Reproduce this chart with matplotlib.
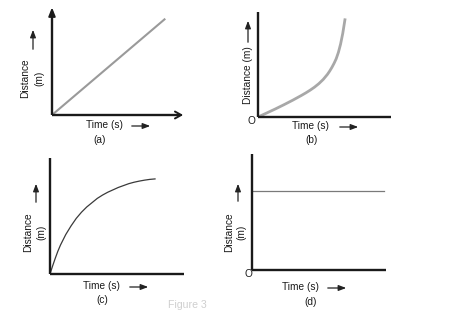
import matplotlib
matplotlib.use("Agg")
import matplotlib.pyplot as plt
from matplotlib.patches import FancyArrowPatch

plt.rcParams['font.family'] = ['Liberation Sans', 'DejaVu Sans']

W, H = 452, 325

# (a) uniform motion: distance grows linearly with time
time_a = [0, 10]
dist_a = [0, 10]

# (b) accelerated motion
time_b = [0, 1, 2, 3, 4, 5, 5.5, 6, 6.5, 7, 7.5, 8, 8.25, 8.5, 8.75, 9, 9.25,
          9.5, 9.75, 10]
dist_b = [0, 0.41, 0.83, 1.27, 1.73, 2.22, 2.48, 2.76, 3.07, 3.43, 3.86, 4.4,
          4.73, 5.1, 5.52, 6.0, 6.65, 7.5, 8.6, 10]

# (c) decelerated motion
time_c = [0, 0.25, 0.5, 0.75, 1, 1.5, 2, 2.5, 3, 3.5, 4, 4.5, 5, 5.5, 6, 6.5, 7,
          7.5, 8, 8.5, 9, 9.5, 10]
dist_c = [0, 0.85, 1.65, 2.4, 3.05, 4.15, 5.05, 5.85, 6.5, 7.05, 7.5, 7.95, 8.3,
          8.6, 8.85, 9.1, 9.3, 9.5, 9.65, 9.77, 9.87, 9.95, 10]

# (d) body at rest
time_d = [0, 10]
dist_d = [6.8, 6.8]

xlabel = "Time (s)"
panel_tags = ["(a)", "(b)", "(c)", "(d)"]

fig = plt.figure(figsize=(W / 100, H / 100), dpi=100)
fig.patch.set_facecolor("white")


def px(x, y):
    return x / W, 1 - y / H


def make_axes(left, top, right, bottom, xlim, ylim):
    ax = fig.add_axes([left / W, 1 - bottom / H, (right - left) / W, (bottom - top) / H])
    ax.set_xlim(*xlim)
    ax.set_ylim(*ylim)
    for s in ("top", "right"):
        ax.spines[s].set_visible(False)
    for s in ("left", "bottom"):
        ax.spines[s].set_linewidth(1.7)
        ax.spines[s].set_color("#1a1a1a")
        ax.spines[s].set_capstyle("butt")
    ax.set_xticks([])
    ax.set_yticks([])
    ax.patch.set_alpha(0)
    return ax


def arrow(x0, y0, x1, y1, lw=0.9):
    a = FancyArrowPatch(px(x0, y0), px(x1, y1), transform=fig.transFigure,
                        arrowstyle="-|>,head_length=0.45,head_width=0.17",
                        mutation_scale=10, lw=lw, color="#222222")
    fig.add_artist(a)


def text(x, y, s, rot=0, size=7.3, color="#1a1a1a", ha="center"):
    fig.text(*px(x, y), s, rotation=rot, ha=ha, va="center", fontsize=size, color=color)


# ---- panel (a)
ax = make_axes(52, 11, 180, 115, (0, 11.3), (0, 10.8))
ax.plot(time_a, dist_a, color="#9a9a9a", lw=1.5, solid_capstyle="butt")
ax.annotate("", xy=(0, 1.035), xytext=(0, 0.95), xycoords="axes fraction",
            arrowprops=dict(arrowstyle="-|>,head_length=0.5,head_width=0.2",
                            color="#1a1a1a", lw=1.4, shrinkA=0, shrinkB=0))
ax.annotate("", xy=(1.025, 0), xytext=(0.95, 0), xycoords="axes fraction",
            arrowprops=dict(arrowstyle="->,head_length=0.45,head_width=0.25",
                            color="#1a1a1a", lw=1.4, shrinkA=0, shrinkB=0))
text(25, 78, "Distance", rot=90)
text(39, 78, "(m)", rot=90)
arrow(33, 52, 33, 27)
text(104, 125, xlabel)
arrow(129, 126, 153, 126)
text(100, 140, panel_tags[0])

# ---- panel (b)
ax = make_axes(258, 12, 391, 117, (0, 15.3), (0, 10.8))
ax.plot(time_b, dist_b, color="#a8a8a8", lw=2.0)
text(248, 75, "Distance (m)", rot=90)
arrow(248, 45, 248, 18)
text(251, 121, "O")
text(310, 126, xlabel)
arrow(337, 127, 361, 127)
text(312, 140, panel_tags[1])

# ---- panel (c)
ax = make_axes(50, 158, 184, 274, (0, 12.76), (0, 12.2))
ax.plot(time_c, dist_c, color="#3a3a3a", lw=0.9)
text(28, 232, "Distance", rot=90)
text(41, 232, "(m)", rot=90)
arrow(36, 205, 36, 181)
text(101, 286, xlabel)
arrow(127, 287, 151, 287)
text(102, 300, panel_tags[2])
text(187, 305, "Figure 3", size=7.6, color="#cfcfcf")

# ---- panel (d)
ax = make_axes(252, 154, 386, 270, (0, 10.15), (0, 10))
ax.plot(time_d, dist_d, color="#7a7a7a", lw=0.9)
text(229, 232, "Distance", rot=90)
text(241, 232, "(m)", rot=90)
arrow(238, 204, 238, 181)
text(248, 274, "O")
text(300, 287, xlabel)
arrow(325, 288, 349, 288)
text(311, 302, panel_tags[3])

fig.savefig("out.png", dpi=100, facecolor="white")
